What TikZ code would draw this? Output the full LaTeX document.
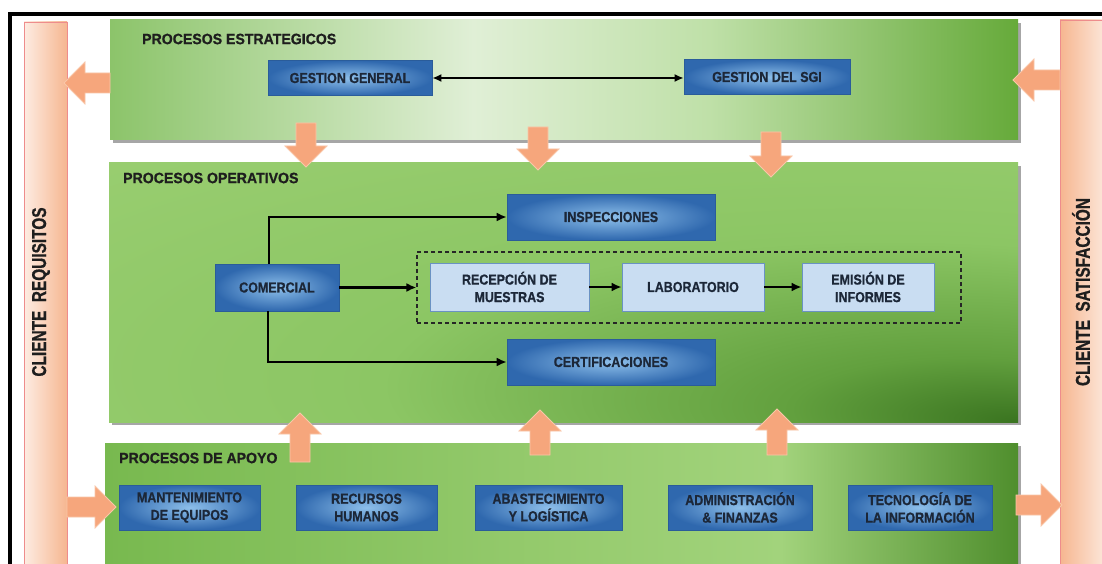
\documentclass[tikz,border=0pt]{standalone}
\usepackage{fontspec}
\setmainfont{Liberation Sans}
\newfontfamily\boxfont{Liberation Sans Bold}[FakeStretch=0.86, FakeBold=0.8]
\newfontfamily\titlefont{Liberation Sans Bold}[FakeStretch=0.94, FakeBold=0.8]
\newfontfamily\barfont{Liberation Sans Bold}[FakeStretch=0.77, FakeBold=0.8]
\usetikzlibrary{shadows,arrows.meta}

% palette
\definecolor{navy}{HTML}{1C2738}
\definecolor{titleink}{HTML}{1E1E1E}
\definecolor{blueouter}{HTML}{2F68AE}
\definecolor{blueinner}{HTML}{8DBFEA}
\definecolor{blueedge}{HTML}{2A5C9A}
\definecolor{palefill}{HTML}{C9DDF2}
\definecolor{paleedge}{HTML}{6A92C3}
\definecolor{barpale}{HTML}{FDECE2}
\definecolor{barpeach}{HTML}{F6B690}
\definecolor{baredge}{HTML}{EE8C8C}
\definecolor{arrowfill}{HTML}{F6A67C}
\definecolor{arrowedge}{HTML}{F9C6A8}
% greens of the three process bands
\definecolor{eA}{HTML}{8CC46A}
\definecolor{eB}{HTML}{E0EFD6}
\definecolor{eC}{HTML}{BFE0A8}
\definecolor{eD}{HTML}{66AA3A}
\definecolor{oA}{HTML}{A2D379}
\definecolor{oB}{HTML}{8CC664}
\definecolor{oC}{HTML}{62A03E}
\definecolor{oD}{HTML}{3A7420}
\definecolor{aA}{HTML}{78B94F}
\definecolor{aB}{HTML}{96CB6E}
\definecolor{aC}{HTML}{A2D37C}
\definecolor{aD}{HTML}{4F8E2D}

\pgfdeclarehorizontalshading{estrshade}{100bp}{color(0bp)=(eA); color(25bp)=(eA); color(45bp)=(eB); color(58bp)=(eC); color(75bp)=(eD); color(100bp)=(eD)}
% darkest at the lower right corner of the band
\pgfdeclareradialshading{operashade}{\pgfpoint{25bp}{-25bp}}{color(0bp)=(oD); color(10bp)=(oC); color(28bp)=(oB); color(72bp)=(oA); color(100bp)=(oA)}
\pgfdeclarehorizontalshading{apoyoshade}{100bp}{color(0bp)=(aA); color(25bp)=(aA); color(50bp)=(aB); color(62bp)=(aC); color(75bp)=(aD); color(100bp)=(aD)}

\tikzset{
  band/.style={rectangle, inner sep=0pt,
    drop shadow={shadow xshift=3pt, shadow yshift=-3pt, fill=black, opacity=0.35}},
  bluebox/.style={rectangle, draw=blueedge, line width=0.6pt, inner sep=2pt,
    inner color=blueinner, outer color=blueouter, text=navy, align=center,
    font=\boxfont\fontsize{14.5}{17.5}\selectfont},
  palebox/.style={rectangle, draw=paleedge, line width=0.8pt, fill=palefill, inner sep=2pt,
    text=navy, align=center, font=\boxfont\fontsize{14.5}{17.5}\selectfont},
  bandtitle/.style={anchor=west, inner sep=0pt, text=titleink,
    font=\titlefont\fontsize{15}{18}\selectfont},
  clientbar/.style={rectangle, draw=baredge, line width=0.6pt, inner sep=0pt,
    left color=barpale, right color=barpeach},
  bartext/.style={inner sep=0pt, text=titleink, rotate=90,
    font=\barfont\fontsize{20}{24}\selectfont},
  flowline/.style={line width=2.4pt, -{Latex[length=10pt,width=9pt]}},
  % broad orange arrow, pointing along local +x, length given as argument
  pics/fatarrow/.style={code={
    \filldraw[fill=arrowfill, draw=arrowedge, line width=0.8pt]
      (0,-10) -- (#1-21,-10) -- (#1-21,-21) -- (#1,0) -- (#1-21,21)
      -- (#1-21,10) -- (0,10) -- cycle;
  }},
}

\begin{document}
\begin{tikzpicture}[x=1pt,y=-1pt]
\useasboundingbox (0,0) rectangle (1102,564);
\fill[white] (0,0) rectangle (1102,564);

% outer frame
\draw[line width=4pt] (10,600) -- (10,14) -- (1120,14);

% client bars
\node[clientbar, minimum width=43pt, minimum height=560pt] (req) at (45.5,302) {};
\node[clientbar, minimum width=50pt, minimum height=562pt, left color=barpeach, right color=barpale] (sat) at (1085,301) {};
\node[bartext] (reqlbl) at (41,292) {CLIENTE\ \ REQUISITOS};
\node[bartext] (satlbl) at (1081,292) {CLIENTE\ \ SATISFACCIÓN};

% process bands
\node[band, shading=estrshade, minimum width=908pt, minimum height=120pt] (estr) at (564,80) {};
\node[band, shading=operashade, minimum width=909pt, minimum height=259pt] (oper) at (563.5,292.5) {};
\node[band, shading=apoyoshade, minimum width=913pt, minimum height=121pt] (apoyo) at (561.5,503.5) {};

\node[bandtitle] (estrlbl) at (142,39) {PROCESOS ESTRATEGICOS};
\node[bandtitle] (operlbl) at (123,178) {PROCESOS OPERATIVOS};
\node[bandtitle] (apoyolbl) at (119,458) {PROCESOS DE APOYO};

% strategic processes
\node[bluebox, minimum width=164pt, minimum height=35pt] (gg) at (350,78) {GESTION GENERAL};
\node[bluebox, minimum width=166pt, minimum height=35pt] (sgi) at (767,77) {GESTION DEL SGI};
\draw[line width=2.2pt, {Latex[length=9pt,width=8pt]}-{Latex[length=9pt,width=8pt]}]
  (gg.east) -- (gg.east -| sgi.west);

% operative processes
\node[bluebox, minimum width=124pt, minimum height=47pt] (com) at (277,287.5) {COMERCIAL};
\node[bluebox, minimum width=208pt, minimum height=46pt] (insp) at (611,217) {INSPECCIONES};
\node[bluebox, minimum width=208pt, minimum height=46pt] (cert) at (611,362) {CERTIFICACIONES};
\node[rectangle, draw=black!85, line width=1.1pt, dash pattern=on 4pt off 3pt,
      minimum width=544pt, minimum height=71pt] (flow) at (689,287.5) {};
\node[palebox, minimum width=159pt, minimum height=48pt] (recep) at (509.5,287) {RECEPCIÓN DE\\MUESTRAS};
\node[palebox, minimum width=142pt, minimum height=48pt] (lab) at (693,287) {LABORATORIO};
\node[palebox, minimum width=132pt, minimum height=48pt] (emis) at (868,287) {EMISIÓN DE\\INFORMES};

\draw[flowline] ([xshift=-8pt]com.north) |- (insp.west);
\draw[flowline] ([xshift=-9pt]com.south) |- (cert.west);
\draw[flowline] (com.east) -- (com.east -| flow.west);
\draw[flowline] (recep.east) -- (lab.west);
\draw[flowline] (lab.east) -- (emis.west);

% support processes
\node[bluebox, minimum width=141pt, minimum height=45pt] (mant) at (189.5,507.5) {MANTENIMIENTO\\DE EQUIPOS};
\node[bluebox, minimum width=141pt, minimum height=45pt] (rrhh) at (366.5,507.5) {RECURSOS\\HUMANOS};
\node[bluebox, minimum width=147pt, minimum height=45pt] (abas) at (548.5,507.5) {ABASTECIMIENTO\\Y LOGÍSTICA};
\node[bluebox, minimum width=144pt, minimum height=45pt] (admin) at (740,507.5) {ADMINISTRACIÓN\\\& FINANZAS};
\node[bluebox, minimum width=144pt, minimum height=45pt] (tec) at (920,507.5) {TECNOLOGÍA DE\\LA INFORMACIÓN};

% broad arrows between bands and client bars
\pic[rotate=180] at (110,83) {fatarrow=46};
\pic[rotate=180] at (1060,80) {fatarrow=47};
\pic at (67,507) {fatarrow=49};
\pic at (1016,505) {fatarrow=46};
\pic[rotate=-90] at (306,123) {fatarrow=44};
\pic[rotate=-90] at (538,127) {fatarrow=43};
\pic[rotate=-90] at (771,132) {fatarrow=45};
\pic[rotate=90] at (300,462) {fatarrow=49};
\pic[rotate=90] at (540,455) {fatarrow=45};
\pic[rotate=90] at (777,455) {fatarrow=46};
\end{tikzpicture}
\end{document}
